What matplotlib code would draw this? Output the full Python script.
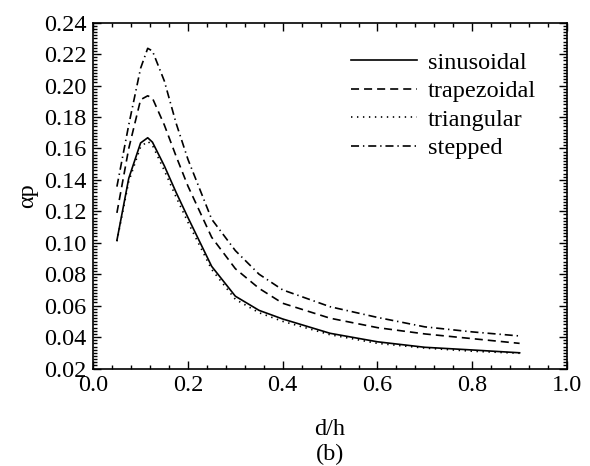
import matplotlib
matplotlib.use("Agg")
import matplotlib.pyplot as plt
from matplotlib.ticker import MultipleLocator

d_h = [0.05, 0.075, 0.1, 0.115, 0.125, 0.15, 0.175, 0.2, 0.25, 0.3, 0.35, 0.4, 0.5, 0.6, 0.7, 0.8, 0.9]
sinusoidal = [0.1015, 0.141, 0.1635, 0.1668, 0.164, 0.149, 0.132, 0.116, 0.085, 0.066, 0.057, 0.0515, 0.0424, 0.037, 0.0335, 0.0318, 0.030]
trapezoidal = [0.119, 0.160, 0.191, 0.1935, 0.192, 0.175, 0.155, 0.136, 0.1035, 0.0835, 0.071, 0.0615, 0.052, 0.046, 0.042, 0.039, 0.036]
triangular = [0.101, 0.139, 0.161, 0.1645, 0.162, 0.146, 0.129, 0.113, 0.083, 0.064, 0.0555, 0.050, 0.0415, 0.036, 0.033, 0.031, 0.0297]
stepped = [0.1357, 0.175, 0.211, 0.2237, 0.222, 0.203, 0.176, 0.153, 0.115, 0.095, 0.080, 0.070, 0.0593, 0.0525, 0.0465, 0.0433, 0.0407]

x_ticks = [0.0, 0.2, 0.4, 0.6, 0.8, 1.0]
y_ticks = [0.02, 0.04, 0.06, 0.08, 0.10, 0.12, 0.14, 0.16, 0.18, 0.20, 0.22, 0.24]

plt.rcParams['font.family'] = ['Liberation Serif', 'DejaVu Serif']
plt.rcParams['lines.scale_dashes'] = False
FS = 17.5

fig = plt.figure(figsize=(5.9, 4.66), dpi=100)
ax = fig.add_axes([0.158, 0.2092, 0.803, 0.7421])

lw = 1.2
ax.plot(d_h, sinusoidal, color='black', lw=lw, linestyle='-', label='sinusoidal')
ax.plot(d_h, trapezoidal, color='black', lw=lw, linestyle=(0, (5.8, 3.6)), label='trapezoidal')
ax.plot(d_h, triangular, color='black', lw=lw, linestyle=(0, (1.0, 3.3)), label='triangular')
ax.plot(d_h, stepped, color='black', lw=lw, linestyle=(0, (5.8, 2.8, 1.0, 2.8)), label='stepped')

ax.set_xlim(0.0, 1.0)
ax.set_ylim(0.02, 0.24)
ax.set_xticks(x_ticks)
ax.set_xticklabels([f"{v:.1f}" for v in x_ticks])
ax.set_yticks(y_ticks)
ax.set_yticklabels([f"{v:.2f}" for v in y_ticks])
ax.xaxis.set_minor_locator(MultipleLocator(0.04))
ax.yaxis.set_minor_locator(MultipleLocator(0.002))
ax.tick_params(which='both', direction='in', top=True, right=True, labelsize=FS, width=1.0)
ax.tick_params(which='major', length=6, pad=5)
ax.tick_params(which='minor', length=3)
for s in ax.spines.values():
    s.set_linewidth(1.2)

ax.set_ylabel('αp', fontsize=FS, labelpad=4)
ax.set_xlabel('d/h', fontsize=FS, labelpad=16)
fig.text(0.5593, 1 - 454 / 466, '(b)', fontsize=FS, ha='center', va='center')

leg = ax.legend(loc='upper left', bbox_to_anchor=(0.545, 0.916), frameon=False,
                fontsize=FS, handlelength=2.7, handletextpad=0.45, labelspacing=0.27,
                borderpad=0, borderaxespad=0)

fig.savefig('out.png', dpi=100)
